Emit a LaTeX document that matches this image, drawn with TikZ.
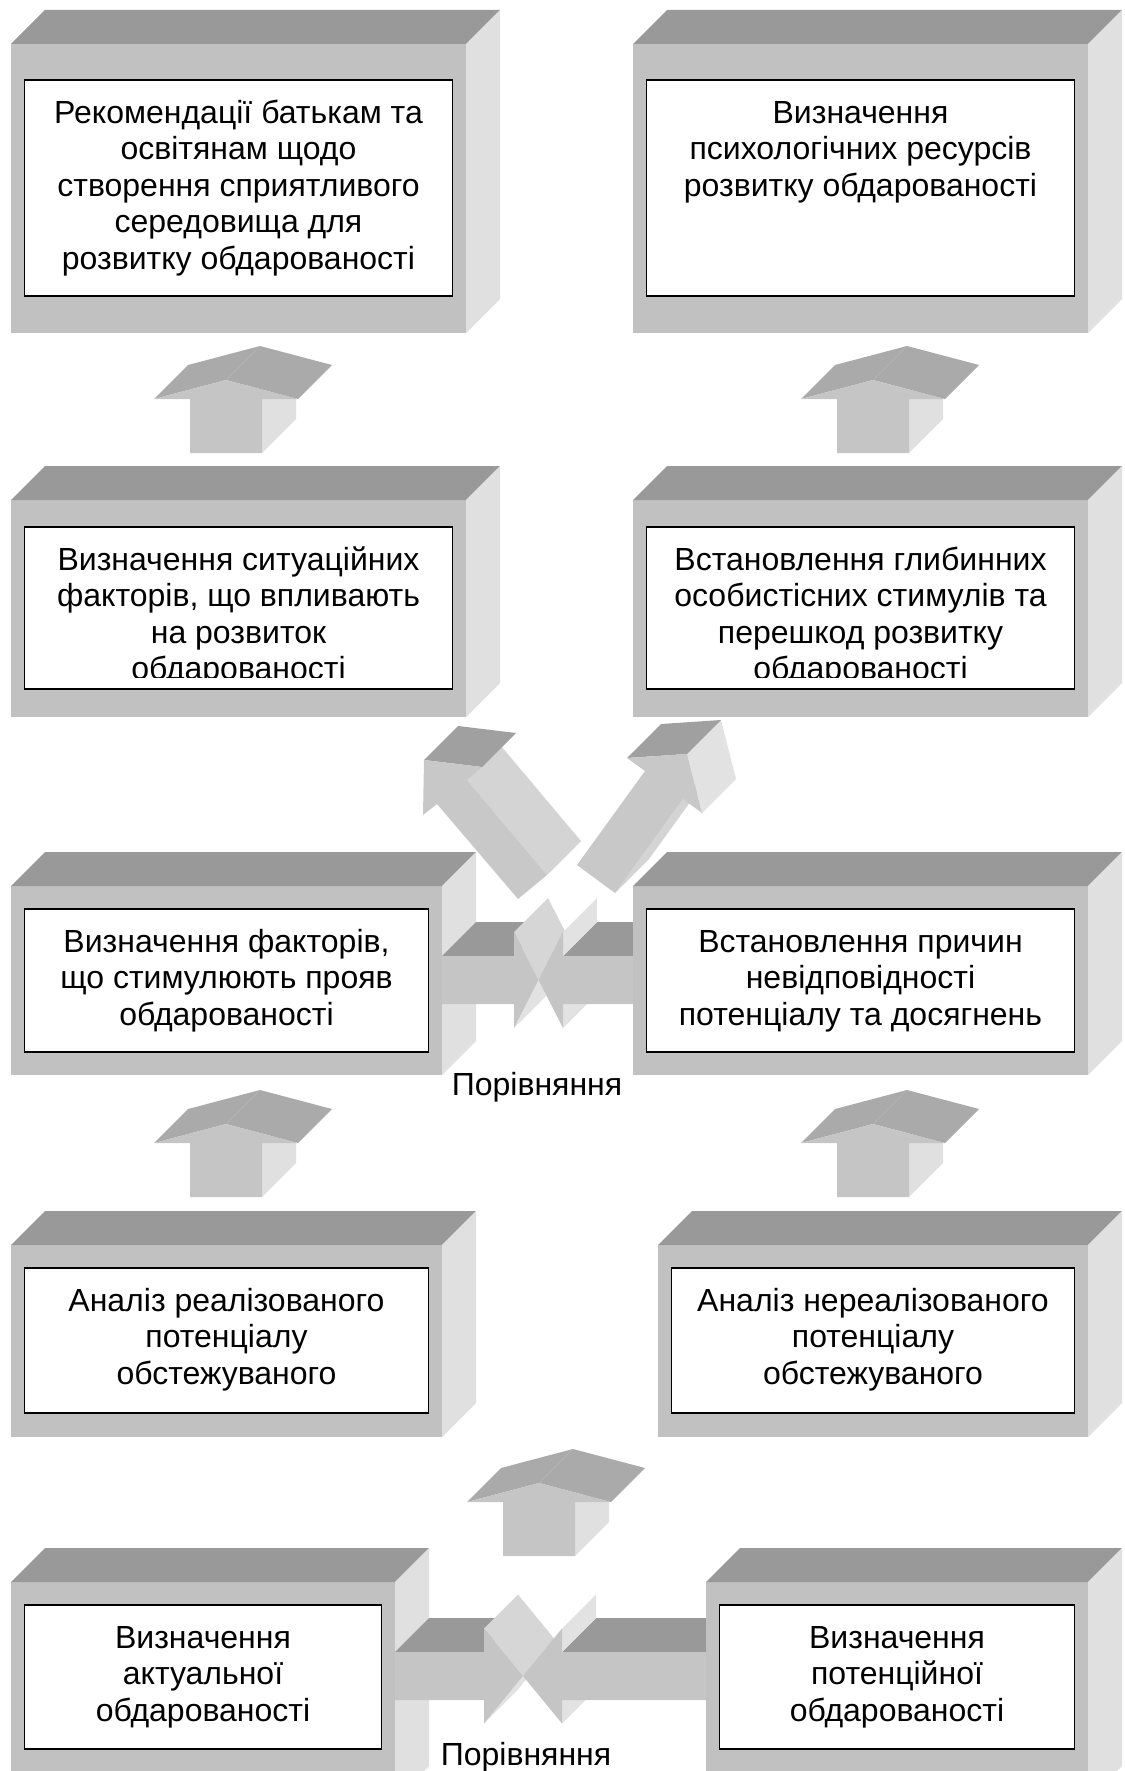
\documentclass[tikz,border=0pt]{standalone}
\usepackage{fontspec}
\setmainfont{Liberation Sans}
\definecolor{cfrontc}{RGB}{193,193,193}
\definecolor{ctopc}{RGB}{153,153,153}
\definecolor{csidec}{RGB}{224,224,224}
\definecolor{afrontc}{RGB}{197,197,197}
\definecolor{aheadc}{RGB}{170,170,170}
\definecolor{asidec}{RGB}{224,224,224}
\definecolor{hslantc}{RGB}{214,214,214}
\definecolor{hlowc}{RGB}{226,226,226}
\definecolor{dtopc}{RGB}{160,160,160}
\definecolor{dfrontc}{RGB}{200,200,200}
\definecolor{dsidec}{RGB}{212,212,212}
\tikzset{
  cfront/.style={fill=cfrontc},
  ctop/.style={fill=ctopc},
  cside/.style={fill=csidec},
  inbox/.style={draw=black, line width=1.6pt, fill=white, inner sep=0pt, outer sep=0pt},
  txt/.style={font=\fontsize{32}{36.5}\selectfont, align=center, inner sep=0pt, outer sep=0pt},
  afront/.style={fill=afrontc},
  ahead/.style={fill=aheadc},
  aside/.style={fill=asidec},
  hslant/.style={fill=hslantc},
  hlow/.style={fill=hlowc},
  dtop/.style={fill=dtopc},
  dfront/.style={fill=dfrontc},
  dside/.style={fill=dsidec}
}
% 3D box: name, x1, y1, x2, y2 (front face), inner y1, inner y2, text
\newcommand\mycube[8]{%
  \fill[cfront] (#2,#3) rectangle (#4,#5);
  \fill[ctop] (#2,#3) -- (#2+34,#3-34) -- (#4+34,#3-34) -- (#4,#3) -- cycle;
  \fill[cside] (#4,#3) -- (#4+34,#3-34) -- (#4+34,#5-34) -- (#4,#5) -- cycle;
  \node[inbox, minimum width={#4-#2-27}, minimum height={#7-#6}] (#1) at ({(#2+#4)/2},{(#6+#7)/2}) {};
  \begin{scope}
    \clip (#2+13.5,#6) rectangle (#4-13.5,#7-12);
    \node[txt, anchor=north] (#1t) at ([yshift=-17.5pt]#1.north) {\strut #8};
  \end{scope}
}
% up arrow: shaft bottom-left corner
\newcommand\uparr[2]{%
  \fill[aside] (#1+72,#2) -- (#1+106,#2-34) -- (#1+106,#2-88) -- (#1+72,#2-54) -- cycle;
  \fill[ahead] (#1-36,#2-54) -- (#1+36,#2-73) -- (#1+70,#2-107) -- (#1-2,#2-88) -- cycle;
  \fill[ahead] (#1+36,#2-73) -- (#1+108,#2-54) -- (#1+142,#2-88) -- (#1+70,#2-107) -- cycle;
  \fill[afront] (#1,#2) -- (#1,#2-54) -- (#1-36,#2-54) -- (#1+36,#2-73) -- (#1+108,#2-54) -- (#1+72,#2-54) -- (#1+72,#2) -- cycle;
}
% right-pointing arrow: shaft start x, head back x, tip x, centre y, half head
\newcommand\harrR[5]{%
  \fill[ctop] (#1,#4-24) -- (#2,#4-24) -- (#2+34,#4-58) -- (#1+34,#4-58) -- cycle;
  \fill[hslant] (#2,#4-#5) -- (#3,#4) -- (#3+34,#4-34) -- (#2+34,#4-#5-34) -- cycle;
  \fill[hlow] (#3,#4) -- (#2,#4+#5) -- (#2+34,#4+#5-34) -- (#3+34,#4-34) -- cycle;
  \fill[afront] (#1,#4-24) -- (#2,#4-24) -- (#2,#4-#5) -- (#3,#4) -- (#2,#4+#5) -- (#2,#4+24) -- (#1,#4+24) -- cycle;
}
% left-pointing arrow: shaft end x (right), head back x, tip x, centre y, half head
\newcommand\harrL[5]{%
  \fill[ctop] (#2,#4-24) -- (#1,#4-24) -- (#1+34,#4-58) -- (#2+34,#4-58) -- cycle;
  \fill[hlow] (#2,#4-#5) -- (#2,#4-24) -- (#2+34,#4-58) -- (#2+34,#4-#5-34) -- cycle;
  \fill[hlow] (#2,#4+24) -- (#2,#4+#5) -- (#2+34,#4+#5-34) -- (#2+34,#4-10) -- cycle;
  \fill[afront] (#1,#4-24) -- (#2,#4-24) -- (#2,#4-#5) -- (#3,#4) -- (#2,#4+#5) -- (#2,#4+24) -- (#1,#4+24) -- cycle;
}
\begin{document}
\begin{tikzpicture}[x=1pt, y=-1pt]
\useasboundingbox (0,0) rectangle (1124,1771);
\clip (0,0) rectangle (1124,1771);

\mycube{A}{11}{44}{466}{333}{80}{296}{Рекомендації батькам та\\освітянам щодо\\створення сприятливого\\середовища для\\розвитку обдарованості}
\mycube{B}{633}{44}{1088}{333}{80}{296}{Визначення\\психологічних ресурсів\\розвитку обдарованості}
\mycube{C}{11}{500}{466}{717}{527}{689}{Визначення ситуаційних\\факторів, що впливають\\на розвиток\\обдарованості}
\mycube{D}{633}{500}{1088}{717}{527}{689}{Встановлення глибинних\\особистісних стимулів та\\перешкод розвитку\\обдарованості}

\uparr{190}{453}
\uparr{837}{453}

\mycube{E}{11}{886}{442}{1075}{909}{1052}{Визначення факторів,\\що стимулюють прояв\\обдарованості}

% diagonal arrow to the upper left
\fill[dside] (467,780) -- (547,875) -- (581,841) -- (501,746) -- cycle;
\fill[dtop] (424,760) -- (482,767) -- (516,733) -- (458,726) -- cycle;
\fill[dfront] (424,760) -- (482,767) -- (467,780) -- (547,875) -- (518,899) -- (437,804) -- (423,815) -- cycle;
% diagonal arrow to the upper right
\fill[dside] (683,799) -- (615,893) -- (649,859) -- (717,765) -- cycle;
\fill[hlow] (687,754) -- (702,813) -- (736,779) -- (721,720) -- cycle;
\fill[dtop] (627,758) -- (687,754) -- (721,720) -- (661,724) -- cycle;
\fill[dfront] (627,758) -- (687,754) -- (702,813) -- (683,799) -- (615,893) -- (577,865) -- (645,771) -- cycle;

\harrR{442}{514}{538.5}{980}{48}
\harrL{633}{563}{538.5}{980}{48}
\mycube{F}{633}{886}{1088}{1075}{909}{1052}{Встановлення причин\\невідповідності\\потенціалу та досягнень}
\node[txt, anchor=base] (cmp1) at (537,1095) {Порівняння};

\mycube{G}{11}{1245}{442}{1437}{1268}{1413}{Аналіз реалізованого\\потенціалу\\обстежуваного}
\mycube{H}{658}{1245}{1088}{1437}{1268}{1413}{Аналіз нереалізованого\\потенціалу\\обстежуваного}
\uparr{190}{1197}
\uparr{837}{1197}

\mycube{I}{11}{1582}{395}{1800}{1605}{1749}{Визначення\\актуальної\\обдарованості}
\harrR{395}{484}{523}{1676}{47.5}
\harrL{706}{562}{523}{1676}{47.5}
\mycube{J}{706}{1582}{1088}{1800}{1605}{1749}{Визначення\\потенційної\\обдарованості}
\uparr{503}{1556}
\node[txt, anchor=base] (cmp2) at (526,1765) {Порівняння};
\end{tikzpicture}
\end{document}
